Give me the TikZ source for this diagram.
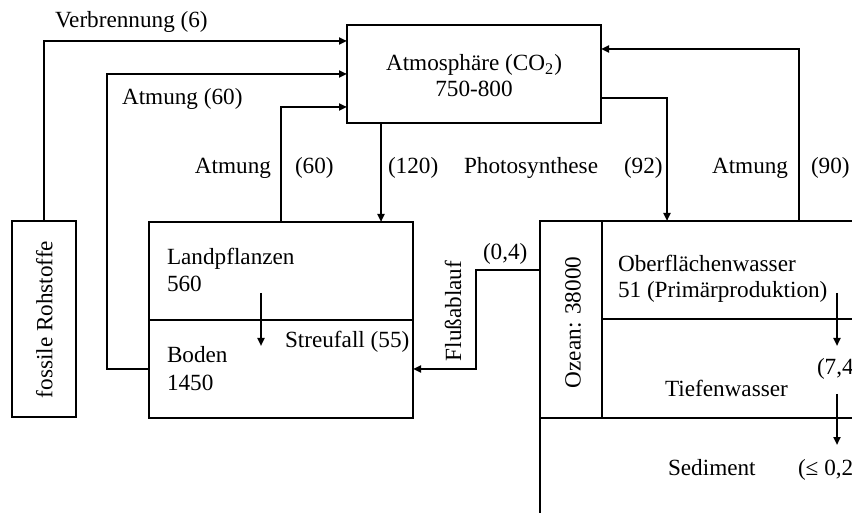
\documentclass[tikz,border=0pt]{standalone}
\usepackage{fontspec}
\setmainfont{Liberation Serif}
\usetikzlibrary{arrows.meta,calc}
\begin{document}
\begin{tikzpicture}[x=0.5pt,y=-0.5pt,
  box/.style={draw, line width=1pt, outer sep=0pt, inner sep=0pt},
  arr/.style={line width=1pt, -{Triangle[length=4pt,width=3.5pt]}},
  lbl/.style={inner sep=0pt, outer sep=0pt, font=\fontsize{11.6}{13.5}\selectfont},
]
\useasboundingbox (0,0) rectangle (852,513);
\clip (0,0) rectangle (852,513);
% boxes
\node[box, minimum width=127pt, minimum height=49pt] (atm) at (474,74) {};
\node[box, minimum width=32pt, minimum height=98pt] (foss) at (44,319) {};
\node[box, minimum width=132pt, minimum height=49pt] (land) at (281,271) {};
\node[box, minimum width=132pt, minimum height=49pt] (boden) at (281,369) {};
\node[box, minimum width=31pt, minimum height=98.5pt] (ozcol) at (571,319.5) {};
\node[box, minimum width=150pt, minimum height=49pt] (surf) at (752,270) {};
\node[box, minimum width=150pt, minimum height=49.5pt] (deep) at (752,368.5) {};
\node[box, minimum width=181pt, minimum height=71pt] (sed) at (721,489) {};
% box texts
\node[lbl, anchor=base] (tAtm) at (474,71) {Atmosphäre (CO\textsubscript{2})};
\node[lbl, anchor=base] (tAtmN) at (474,97) {750-800};
\node[lbl, rotate=90, anchor=base] (tFoss) at (52.5,319.5) {fossile Rohstoffe};
\node[lbl, anchor=base west] (tLand) at (167,265) {Landpflanzen};
\node[lbl, anchor=base west] (tLandN) at (167,292) {560};
\node[lbl, anchor=base west] (tBoden) at (167,363) {Boden};
\node[lbl, anchor=base west] (tBodenN) at (167,391) {1450};
\node[lbl, rotate=90, anchor=base] (tOz) at (580.5,322.5) {Ozean: 38000};
\node[lbl, anchor=base west] (tSurf) at (618,272) {Oberflächenwasser};
\node[lbl, anchor=base west] (tSurfN) at (618,298) {51 (Primärproduktion)};
\node[lbl, anchor=base west] (tDeep) at (665,397) {Tiefenwasser};
\node[lbl, anchor=base west] (tSed) at (668,475) {Sediment};
% flow labels
\node[lbl, anchor=base west] (lVerb) at (55,28) {Verbrennung (6)};
\node[lbl, anchor=base west] (lAtm1) at (122,105) {Atmung (60)};
\node[lbl, anchor=base east] (lAtm2) at (271,174) {Atmung};
\node[lbl, anchor=base west] (lAtm2v) at (295,174) {(60)};
\node[lbl, anchor=base west] (l120) at (388,174) {(120)};
\node[lbl, anchor=base west] (lPhoto) at (464,174) {Photosynthese};
\node[lbl, anchor=base west] (l92) at (624,174) {(92)};
\node[lbl, anchor=base west] (lAtm3) at (712,174) {Atmung};
\node[lbl, anchor=base west] (l90) at (811,174) {(90)};
\node[lbl, anchor=base west] (lStreu) at (285,348) {Streufall (55)};
\node[lbl, rotate=90, anchor=base] (lFluss) at (461,311) {Flußablauf};
\node[lbl, anchor=base west] (l04) at (483,260) {(0,4)};
\node[lbl, anchor=base west] (l74) at (817,375) {(7,4};
\node[lbl, anchor=base west] (l02) at (798,475) {(≤ 0,2};
% connectors
\draw[arr] (foss.north) |- ([yshift=-8pt]atm.north west);
\draw[arr] (boden.west) -- ++(-21pt,0) |- (atm.west);
\draw[arr] (land.north) |- ([yshift=8pt]atm.south west);
\coordinate (c120) at ([xshift=-16pt]land.north east);
\draw[arr] (c120 |- atm.south) -- (c120);
\coordinate (c92) at ([xshift=32.5pt]surf.north west);
\draw[arr] ([yshift=12.5pt]atm.south east) -| (c92);
\coordinate (c90) at ([xshift=98.5pt]surf.north west);
\draw[arr] (c90) |- ([yshift=-12pt]atm.north east);
\draw[arr] ([yshift=-24.5pt]ozcol.north west) -- ++(-32pt,0) |- (boden.east);
\draw[arr] ([shift={(-10pt,-11pt)}]land.center) -- ([shift={(-10pt,11.5pt)}]boden.center);
\coordinate (o1s) at (837,293);
\coordinate (o1e) at (837,346);
\coordinate (o2s) at (837,394);
\coordinate (o2e) at (837,445);
\draw[arr] (o1s) -- (o1e);
\draw[arr] (o2s) -- (o2e);
\end{tikzpicture}
\end{document}
